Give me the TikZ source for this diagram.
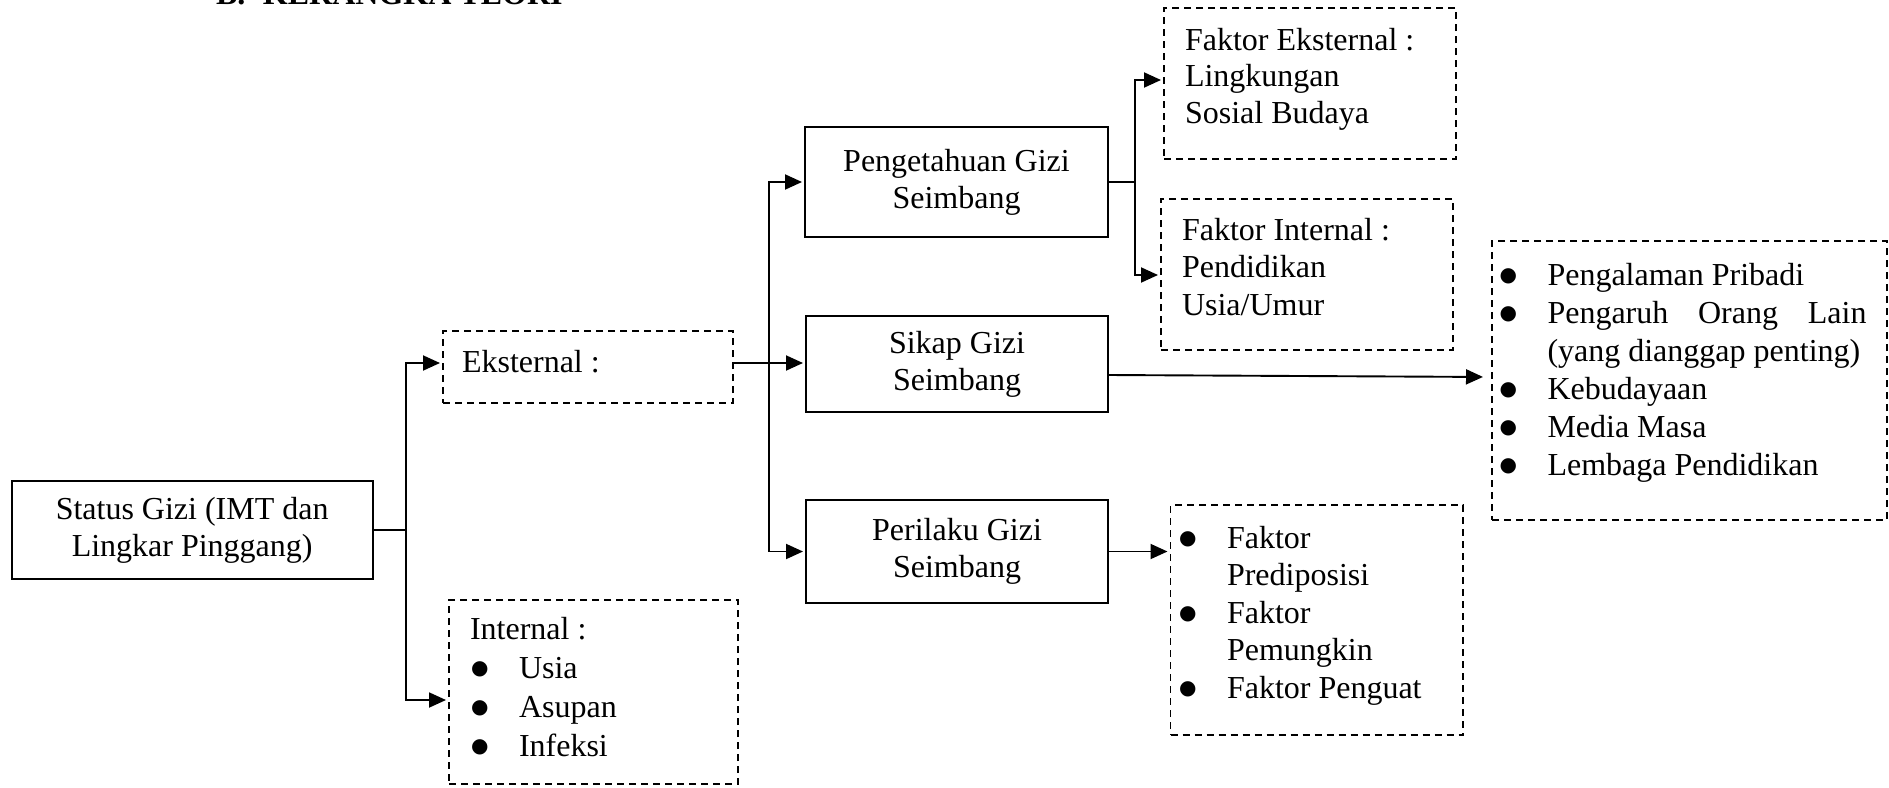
\documentclass[tikz,border=0pt]{standalone}
\usepackage{fontspec}
\setmainfont{Liberation Serif}
\newfontfamily\symf{DejaVu Sans}
\usepackage{graphicx}
\usetikzlibrary{arrows.meta,calc}
\newcommand\bul{\makebox[49pt][l]{\hspace*{1pt}\raisebox{4pt}{\symf\fontsize{20}{20}\selectfont ●}}}
\newcommand\ind{\hspace*{49pt}}
\tikzset{
  every node/.style={font=\fontsize{32}{37}\selectfont},
  solidbox/.style={draw, line width=2.3pt, rectangle, inner sep=0pt, outer sep=0pt, align=center},
  dashbox/.style={draw, line width=1.8pt, dash pattern=on 7pt off 5pt, rectangle, inner sep=0pt, outer sep=0pt},
  txt/.style={inner sep=0pt, outer sep=0pt, anchor=base west},
  conn/.style={line width=1.9pt},
  arr/.style={conn, -{Triangle[length=17pt,width=15pt]}, shorten >=3pt},
}
\begin{document}
\begin{tikzpicture}[x=1pt,y=-1pt]
\useasboundingbox (0,0) rectangle (1889,787);
% title (cut off at top)
\node[txt, font=\fontsize{32}{37}\selectfont\bfseries] (title) at (216,5) {\makebox[47pt][l]{B.}KERANGKA TEORI};

% solid boxes
\node[solidbox, minimum width=361pt, minimum height=98pt] (status) at (192.2,530) {\raisebox{-3pt}{\parbox{340pt}{\centering Status Gizi (IMT dan\\Lingkar Pinggang)}}};
\node[solidbox, minimum width=303pt, minimum height=110pt] (peng) at (956.5,182) {Pengetahuan Gizi\\Seimbang};
\node[solidbox, minimum width=302pt, minimum height=96pt] (sikap) at (957,364) {Sikap Gizi\\Seimbang};
\node[solidbox, minimum width=302pt, minimum height=103pt] (peril) at (957,551.5) {Perilaku Gizi\\Seimbang};

% dashed boxes
\node[dashbox, minimum width=290pt, minimum height=72pt] (eks) at (588,367) {};
\node[dashbox, minimum width=289pt, minimum height=184pt] (intl) at (593.5,692) {};
\node[dashbox, minimum width=292pt, minimum height=151pt] (fe) at (1310,83.5) {};
\node[dashbox, minimum width=292pt, minimum height=151pt] (fi) at (1307,274.5) {};
\node[dashbox, minimum width=395pt, minimum height=279pt] (big) at (1689.5,380.5) {};
\node[dashbox, minimum width=292.5pt, minimum height=230pt] (pl) at (1316.75,620) {};

% texts in dashed boxes
\node[txt] (eksT) at (462,372) {Eksternal :};
\node[txt] (intlT) at (470,639) {\parbox[t]{260pt}{\fontsize{32}{39}\selectfont Internal :\\\bul Usia\\\bul Asupan\\\bul Infeksi}};
\node[txt] (feT) at (1185,50) {\parbox[t]{265pt}{\fontsize{32}{36.5}\selectfont Faktor Eksternal :\\Lingkungan\\Sosial Budaya}};
\node[txt] (fiT) at (1182,240) {\parbox[t]{265pt}{\fontsize{32}{37.5}\selectfont Faktor Internal :\\Pendidikan\\Usia/Umur}};
\node[txt] (bigT) at (1498.5,285) {\parbox[t]{375pt}{\fontsize{32}{38}\selectfont \bul Pengalaman Pribadi\\\bul\makebox[319pt][s]{Pengaruh\hfill Orang\hfill Lain}\\\ind(yang dianggap penting)\\\bul Kebudayaan\\\bul Media Masa\\\bul Lembaga Pendidikan}};
\node[txt] (plT) at (1178,548) {\parbox[t]{270pt}{\fontsize{32}{37.5}\selectfont \bul Faktor\\\ind Prediposisi\\\bul Faktor\\\ind Pemungkin\\\bul Faktor Penguat}};

% junction coordinates
\coordinate (j1t) at (406,363);
\coordinate (j1b) at (406,700);
\coordinate (j2) at (769,363);
\coordinate (j3) at (1135,182);
\coordinate (j3t) at (1135,80);
\coordinate (j3b) at (1135,275);

% connectors
\draw[arr] (status.east) -- (status.east -| j1t) |- (eks.west |- j1t);
\draw[arr] (status.east -| j1t) |- (intl.west |- j1b);
\draw[arr] (eks.east |- j2) -- (sikap.west |- j2);
\draw[arr] (j2) |- (peng.west);
\draw[arr] (j2) |- (peril.west);
\draw[conn] (peng.east) -- (j3);
\draw[arr] (j3) -- (j3t) -- (fe.west |- j3t);
\draw[arr] (j3) -- (j3b) -- (fi.west |- j3b);
\draw[arr, shorten >=9pt] ($(sikap.east)+(0,11)$) -- ($(big.west)+(0,-3.5)$);
\draw[arr] (peril.east) -- (pl.west |- peril.east);
\end{tikzpicture}
\end{document}
